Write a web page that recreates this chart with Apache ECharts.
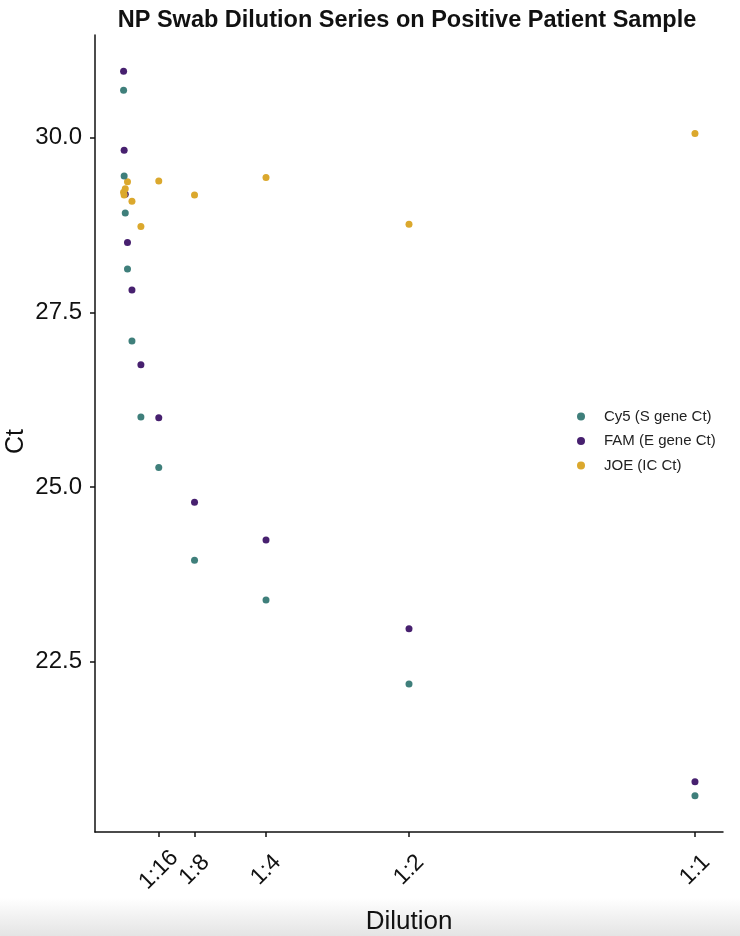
<!DOCTYPE html>
<html>
<head>
<meta charset="utf-8">
<script src="https://cdn.jsdelivr.net/npm/echarts@6/dist/echarts.min.js"></script>
<style>
html,body{margin:0;padding:0;background:#fff;}
#chart{width:740px;height:936px;}
</style>
</head>
<body>
<div id="chart"></div>
<script>
// Dilution fractions (x) and their labels
const dilutionLabels = ['1:1024','1:512','1:256','1:128','1:64','1:32','1:16','1:8','1:4','1:2','1:1'];
const dilutionValues = [0.0009765625, 0.001953125, 0.00390625, 0.0078125, 0.015625, 0.03125, 0.0625, 0.125, 0.25, 0.5, 1];

// Ct values per channel
const cy5Ct = [30.68, 29.45, 28.92, 28.12, 27.09, 26.00, 25.28, 23.95, 23.38, 22.18, 20.58];
const famCt = [30.95, 29.82, 29.19, 28.50, 27.82, 26.75, 25.99, 24.78, 24.24, 22.97, 20.78];
const joeCt = [29.22, 29.18, 29.27, 29.37, 29.09, 28.73, 29.38, 29.18, 29.43, 28.76, 30.06];

// Axis tick labels
const xTickValues = [0.0625, 0.125, 0.25, 0.5, 1];
const xTickLabels = ['1:16', '1:8', '1:4', '1:2', '1:1'];
const yTickValues = [22.5, 25.0, 27.5, 30.0];

const seriesNames = ['Cy5 (S gene Ct)', 'FAM (E gene Ct)', 'JOE (IC Ct)'];
const seriesColors = ['#3f7f7b', '#47206f', '#dba82d'];
const seriesZ = [4, 2, 3];
const seriesValues = [cy5Ct, famCt, joeCt];

const FONT = '"Liberation Sans", Arial, Helvetica, sans-serif';

const chart = echarts.init(document.getElementById('chart'), null, {renderer: 'canvas'});

const series = seriesNames.map((name, i) => ({
  name: name,
  type: 'scatter',
  symbol: 'circle',
  symbolSize: 7,
  z: seriesZ[i],
  itemStyle: {color: seriesColors[i], opacity: 1},
  data: dilutionValues.map((d, j) => [d, seriesValues[i][j]])
}));

chart.setOption({
  animation: false,
  backgroundColor: '#ffffff',
  title: {
    text: 'NP Swab Dilution Series on Positive Patient Sample',
    left: 407,
    textAlign: 'center',
    top: 9,
    padding: 0,
    textStyle: {fontFamily: FONT, fontWeight: 'bold', fontSize: 23.5, color: '#111'}
  },
  legend: {
    orient: 'vertical',
    left: 577,
    top: 409,
    padding: 0,
    itemGap: 9.5,
    itemWidth: 8,
    itemHeight: 8,
    icon: 'circle',
    data: seriesNames,
    textStyle: {fontFamily: FONT, fontSize: 15, color: '#222', lineHeight: 14, padding: [0, 0, 0, 14]}
  },
  grid: {left: 95, top: 35, width: 628, height: 797, containLabel: false, outerBoundsMode: 'none'},
  xAxis: {
    type: 'value',
    min: -0.049,
    max: 1.049,
    name: 'Dilution',
    nameLocation: 'middle',
    nameGap: 77,
    nameMoveOverlap: false,
    nameTextStyle: {fontFamily: FONT, fontSize: 26, color: '#111', lineHeight: 26},
    splitLine: {show: false},
    axisLine: {show: true, onZero: false, lineStyle: {color: '#111', width: 1.5}},
    axisTick: {show: true, length: 5, customValues: xTickValues, lineStyle: {color: '#111', width: 1.5}},
    axisLabel: {
      customValues: xTickValues,
      rotate: 45,
      align: 'center',
      verticalAlign: 'middle',
      margin: 38,
      fontFamily: FONT,
      fontSize: 23,
      color: '#111',
      formatter: function (v) {
        const idx = xTickValues.indexOf(v);
        return idx >= 0 ? xTickLabels[idx] : '';
      }
    }
  },
  yAxis: {
    type: 'value',
    min: 20.06,
    max: 31.47,
    name: 'Ct',
    nameLocation: 'middle',
    nameGap: 66,
    nameRotate: 90,
    nameMoveOverlap: false,
    nameTextStyle: {fontFamily: FONT, fontSize: 25, color: '#111', padding: [0, 16, 0, 0]},
    splitLine: {show: false},
    axisLine: {show: true, onZero: false, lineStyle: {color: '#111', width: 1.5}},
    axisTick: {show: true, length: 5, customValues: yTickValues, lineStyle: {color: '#111', width: 1.5}},
    axisLabel: {
      customValues: yTickValues,
      margin: 13,
      fontFamily: FONT,
      fontSize: 24,
      color: '#111',
      formatter: function (v) { return v.toFixed(1); }
    }
  },
  graphic: [{
    type: 'rect',
    left: 0,
    top: 898,
    z: -10,
    shape: {width: 740, height: 38},
    silent: true,
    style: {
      fill: new echarts.graphic.LinearGradient(0, 0, 0, 1, [
        {offset: 0, color: '#ffffff'},
        {offset: 0.4, color: '#f4f4f4'},
        {offset: 1, color: '#e4e4e4'}
      ])
    }
  }],
  series: series
});
</script>
</body>
</html>
